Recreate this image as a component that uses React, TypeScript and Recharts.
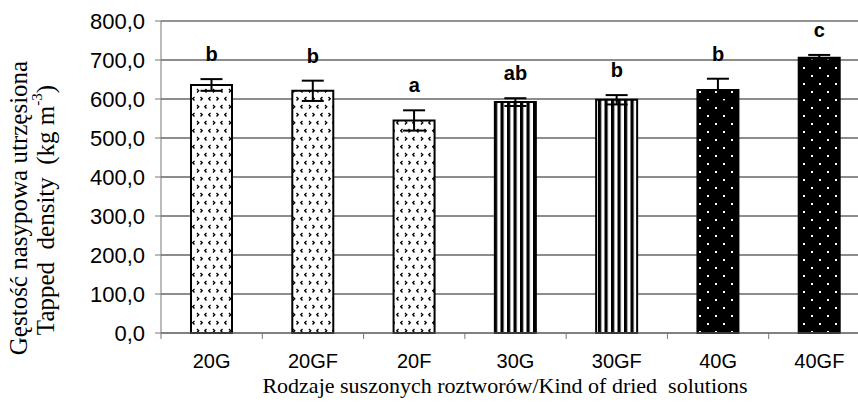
import React from 'react';
import {
  ComposedChart, Bar, Line, XAxis, YAxis, CartesianGrid, ErrorBar,
  LabelList, Cell, ReferenceLine
} from 'recharts';

const categories = ['20G', '20GF', '20F', '30G', '30GF', '40G', '40GF'];
const density = [636, 621, 545, 592, 598, 623, 706];
const deviation = [15, 26, 26, 10, 12, 29, 7];
const letters = ['b', 'b', 'a', 'ab', 'b', 'b', 'c'];
const fills = ['chevron', 'chevron', 'chevron', 'stripes', 'stripes', 'dots', 'dots'];
const yTicks = [0, 100, 200, 300, 400, 500, 600, 700, 800];

const data = categories.map((name, i) => ({
  name,
  value: density[i],
  err: deviation[i],
  top: density[i] + deviation[i],
  letter: letters[i],
}));

const SANS = "'Liberation Sans', Arial, sans-serif";
const SERIF = "'Liberation Serif', 'Times New Roman', serif";
const NB = '\u00a0';

const CHART_W = 870;
const AXIS_W = 161;
const BAND = (CHART_W - AXIS_W) / categories.length;

function Patterns() {
  return (
    <svg width={0} height={0} style={{ position: 'absolute' }}>
      <defs>
        <pattern id="chevron" width="16" height="16" patternUnits="userSpaceOnUse">
          <rect width="16" height="16" fill="#fff" />
          <g stroke="#000" strokeWidth="1.4" fill="none">
            <path d="M2.5 1 L0.8 2.7 L2.5 4.4" />
            <path d="M8.5 1 L10.2 2.7 L8.5 4.4" />
            <path d="M5 9 L6.7 10.7 L5 12.4" />
            <path d="M14.5 9 L12.8 10.7 L14.5 12.4" />
          </g>
        </pattern>
        <pattern id="stripes" width="6.5" height="6" patternUnits="userSpaceOnUse">
          <rect width="6.5" height="6" fill="#fff" />
          <rect width="3.2" height="6" fill="#000" />
        </pattern>
        <pattern id="dots" width="16" height="16" patternUnits="userSpaceOnUse">
          <rect width="16" height="16" fill="#000" />
          <rect x="3" y="3" width="2" height="2" fill="#fff" />
          <rect x="11" y="11" width="2" height="2" fill="#fff" />
        </pattern>
      </defs>
    </svg>
  );
}

function CategoryTick(props: any) {
  const { x, y, payload } = props;
  return (
    <g>
      <line x1={x - BAND / 2} x2={x - BAND / 2} y1={y - 8} y2={y - 2} stroke="#777" />
      <text x={x} y={y + 27} textAnchor="middle" fontFamily={SANS} fontSize={20} fill="#000">
        {payload.value}
      </text>
    </g>
  );
}

function YTitle() {
  return (
    <g fontFamily={SERIF} fontSize={25} fill="#000">
      <text x={18} y={208} transform="rotate(-90 18 208)" textAnchor="middle" dominantBaseline="central">
        Gęstość nasypowa utrzęsiona
      </text>
      <text x={45} y={210} transform="rotate(-90 45 210)" textAnchor="middle" dominantBaseline="central">
        {`Tapped${NB} density${NB} (kg m`}
        <tspan baselineShift="super" fontSize={15}>-3</tspan>
        {')'}
      </text>
    </g>
  );
}

function XTitle() {
  return (
    <text x={505} y={393} textAnchor="middle" fontFamily={SERIF} fontSize={22} fill="#000">
      {`Rodzaje suszonych roztworów/Kind of dried${NB} solutions`}
    </text>
  );
}

export default function App() {
  return (
    <div style={{ position: 'fixed', left: 0, top: 0, width: 858, height: 403, overflow: 'hidden', background: '#fff' }}>
      <Patterns />
      <ComposedChart
        width={CHART_W}
        height={403}
        data={data}
        margin={{ top: 21, right: 0, left: 0, bottom: 30 }}
        barCategoryGap={0}
      >
        <CartesianGrid vertical={false} stroke="#1a1a1a" />
        <ReferenceLine y={800} stroke="#999" />
        <XAxis
          dataKey="name"
          height={40}
          axisLine={{ stroke: '#777' }}
          tickLine={false}
          tick={<CategoryTick />}
          interval={0}
          label={{ content: () => <XTitle /> }}
        />
        <YAxis
          width={AXIS_W}
          domain={[0, 800]}
          ticks={yTicks}
          interval={0}
          tickSize={6}
          tickMargin={10}
          axisLine={{ stroke: '#777' }}
          tickLine={{ stroke: '#777' }}
          tick={{ fontFamily: SANS, fontSize: 22, fill: '#000' }}
          tickFormatter={(v: number) => v.toFixed(1).replace('.', ',')}
          label={{ content: () => <YTitle /> }}
        />
        <Bar dataKey="value" barSize={41} stroke="#000" strokeWidth={2} isAnimationActive={false}>
          {data.map((d, i) => (
            <Cell key={d.name} fill={`url(#${fills[i]})`} />
          ))}
          <ErrorBar dataKey="err" width={11} stroke="#000" strokeWidth={2} direction="y" />
        </Bar>
        <Line dataKey="top" stroke="none" dot={false} activeDot={false} legendType="none" isAnimationActive={false}>
          <LabelList
            dataKey="letter"
            position="top"
            offset={18}
            style={{ fontFamily: SANS, fontSize: 20, fontWeight: 'bold', fill: '#000' }}
          />
        </Line>
      </ComposedChart>
    </div>
  );
}
